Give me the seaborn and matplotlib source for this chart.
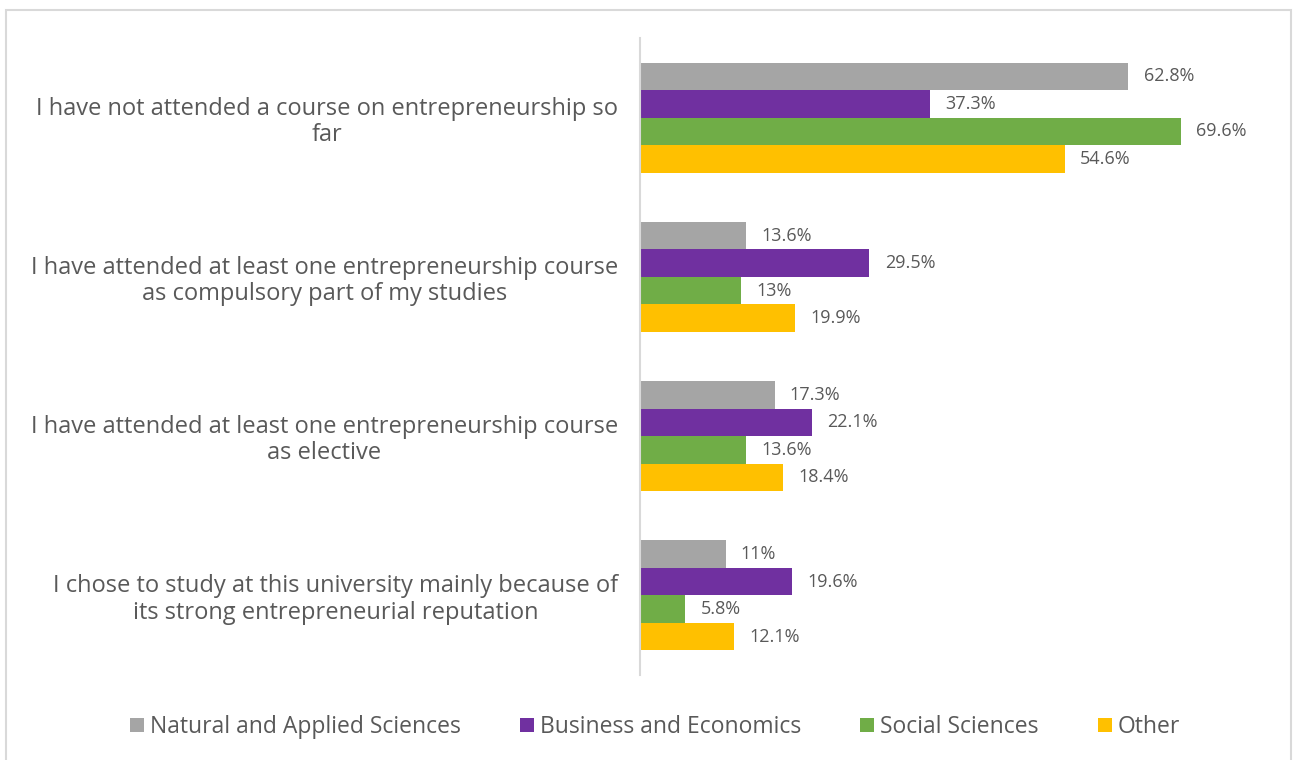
import matplotlib
matplotlib.use("Agg")
import matplotlib.pyplot as plt
from matplotlib.patches import Rectangle
import seaborn as sns
import pandas as pd

# Survey statements (y axis)
statements = [
    "I have not attended a course on entrepreneurship so\nfar",
    "I have attended at least one entrepreneurship course\nas compulsory part of my studies",
    "I have attended at least one entrepreneurship course\nas elective",
    "I chose to study at this university mainly because of\nits strong entrepreneurial reputation",
]

# Fields of study (hue)
fields = ["Natural and Applied Sciences", "Business and Economics", "Social Sciences", "Other"]

# Share of respondents (%) per field, one value per statement
natural_applied = [62.8, 13.6, 17.3, 11.0]
business_econ = [37.3, 29.5, 22.1, 19.6]
social_sciences = [69.6, 13.0, 13.6, 5.8]
other = [54.6, 19.9, 18.4, 12.1]

colors = ["#A5A5A5", "#7030A0", "#70AD47", "#FFC000"]
text_color = "#595959"

series = [natural_applied, business_econ, social_sciences, other]
rows = []
for field, vals in zip(fields, series):
    for stmt, v in zip(statements, vals):
        rows.append({"statement": stmt, "field": field, "value": v})
df = pd.DataFrame(rows)

sns.set_style("white")
plt.rcParams["font.family"] = ["Open Sans", "DejaVu Sans"]

fig = plt.figure(figsize=(12.94, 7.6), dpi=100)
ax = fig.add_axes([640 / 1294, 85 / 760, 622 / 1294, 637 / 760])

sns.barplot(
    data=df, y="statement", x="value", hue="field",
    order=statements, hue_order=fields, palette=colors,
    orient="h", width=0.69, gap=0, saturation=1, errorbar=None,
    linewidth=0, ax=ax, legend=True,
)

for container, vals in zip(ax.containers, series):
    ax.bar_label(container, labels=[f"{v:g}%" for v in vals], padding=11,
                 fontsize=13, color=text_color)

ax.set_xlim(0, 80)
ax.set_ylim(3.5, -0.5)
ax.set_xlabel("")
ax.set_ylabel("")
ax.set_xticks([])
ax.tick_params(axis="y", length=0, pad=16)
ax.set_yticks(range(len(statements)))
ax.set_yticklabels(statements, fontsize=17, color=text_color,
                   multialignment="center", linespacing=1.12)

for side in ["top", "right", "bottom"]:
    ax.spines[side].set_visible(False)
ax.spines["left"].set_color("#D9D9D9")
ax.spines["left"].set_linewidth(1.5)

leg = ax.get_legend()
handles = leg.legend_handles
leg.remove()
fig.legend(
    handles, fields, loc="center", bbox_to_anchor=(655 / 1294, 1 - 727 / 760),
    ncol=4, frameon=False, fontsize=16.5, labelcolor=text_color,
    handlelength=0.6, handleheight=0.6, handletextpad=0.25, columnspacing=2.6,
)

# light outer frame
fig.patches.append(Rectangle((6 / 1294, -0.05), 1285 / 1294, 1.05 - 10 / 760,
                             transform=fig.transFigure, fill=False,
                             edgecolor="#D9D9D9", linewidth=1.5))

fig.savefig("out.png", dpi=100, facecolor="white")
